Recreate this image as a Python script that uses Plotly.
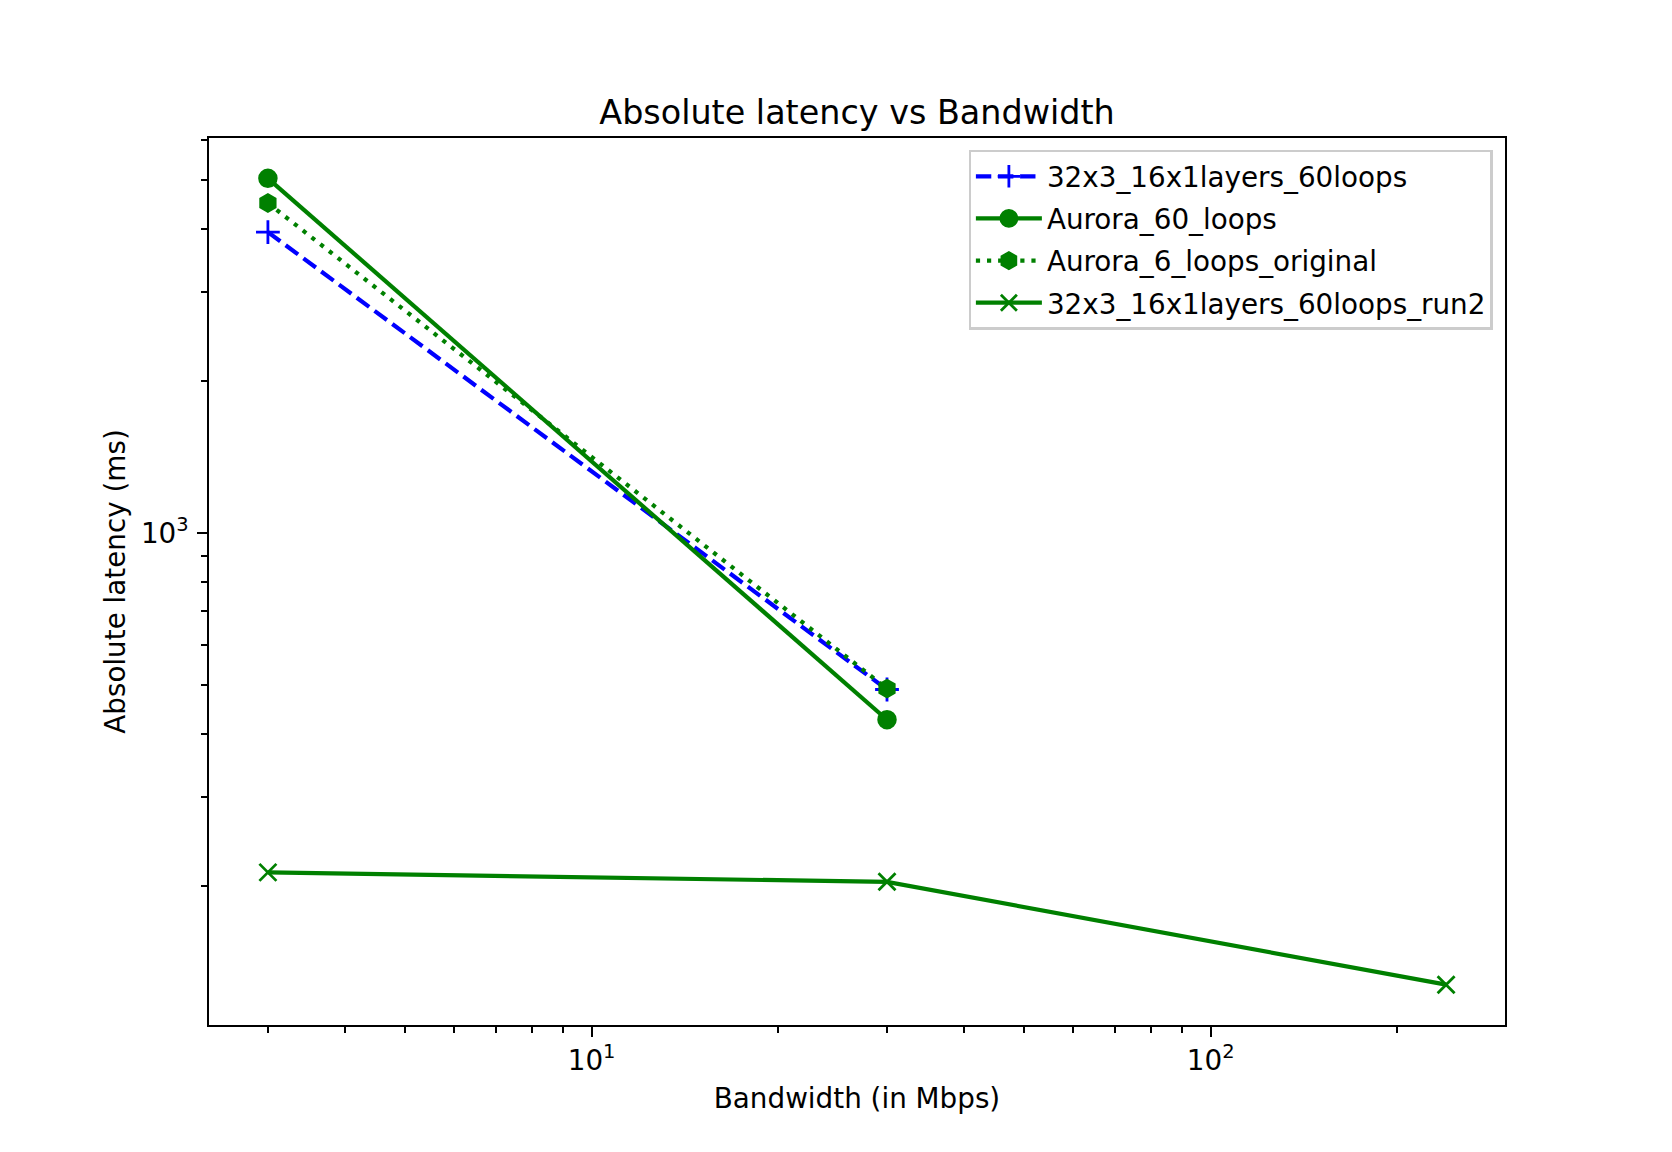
import numpy as np
import plotly.graph_objects as go

# ---- data ----
bandwidth_a = [3, 30]
bandwidth_b = [3, 30, 240]
lat_32x3 = [3937, 490]
lat_aurora60 = [5030, 427]
lat_aurora6 = [4494, 492]
lat_run2 = [213, 204, 127.7]

names = ["32x3_16x1layers_60loops", "Aurora_60_loops",
         "Aurora_6_loops_original", "32x3_16x1layers_60loops_run2"]

x_major = [10, 100]
x_major_text = ["10<sup>1</sup>", "10<sup>2</sup>"]
x_minor = [3, 4, 5, 6, 7, 8, 9, 20, 30, 40, 50, 60, 70, 80, 90, 200]
y_major = [1000]
y_major_text = ["10<sup>3</sup>"]
y_minor = [200, 300, 400, 500, 600, 700, 800, 900, 2000, 3000, 4000, 5000, 6000]

GREEN = "#008000"
BLUE = "#0000ff"
LW = 4.2
FONT = "DejaVu Sans"
FS = 27.8

fig = go.Figure()
fig.add_trace(go.Scatter(
    x=bandwidth_a, y=lat_32x3, name=names[0], mode="lines+markers", legendgroup="a",
    line=dict(color=BLUE, width=LW, dash="15.4px,6.7px"),
    marker=dict(symbol="cross-thin", size=17, color=BLUE, line=dict(color=BLUE, width=2.8))))
fig.add_trace(go.Scatter(
    x=bandwidth_a, y=lat_aurora60, name=names[1], mode="lines+markers", legendgroup="b",
    line=dict(color=GREEN, width=LW),
    marker=dict(symbol="circle", size=16.7, color=GREEN, line=dict(color=GREEN, width=2.8))))
fig.add_trace(go.Scatter(
    x=bandwidth_a, y=lat_aurora6, name=names[2], mode="lines+markers", legendgroup="c",
    line=dict(color=GREEN, width=LW, dash="4.2px,6.9px"),
    marker=dict(symbol="hexagon", size=16.7, color=GREEN, line=dict(color=GREEN, width=2.8))))
fig.add_trace(go.Scatter(
    x=bandwidth_b, y=lat_run2, name=names[3], mode="lines+markers", legendgroup="d",
    line=dict(color=GREEN, width=LW),
    marker=dict(symbol="x-thin", size=17, color=GREEN, line=dict(color=GREEN, width=2.8))))

def log_range(vals):
    lo, hi = np.log10(min(vals)), np.log10(max(vals))
    m = 0.05 * (hi - lo)
    return [lo - m, hi + m]

xr = log_range(bandwidth_a + bandwidth_b)
yr = log_range(lat_32x3 + lat_aurora60 + lat_aurora6 + lat_run2)

axis_common = dict(
    showgrid=False, zeroline=False, showline=True, linecolor="black", linewidth=2.2,
    mirror=True, ticks="outside", ticklen=9.7, tickwidth=2.2, tickcolor="black",
    tickfont=dict(family=FONT, size=FS, color="black"),
)

fig.update_xaxes(type="log", range=xr, tickmode="array", tickvals=x_major, ticktext=x_major_text,
                 minor=dict(tickmode="array", tickvals=x_minor, ticks="outside", ticklen=5.6,
                            tickwidth=1.7, tickcolor="black", showgrid=False),
                 title=dict(text="Bandwidth (in Mbps)", font=dict(family=FONT, size=FS, color="black"),
                            standoff=12),
                 ticklabelstandoff=0,
                 **axis_common)
fig.update_yaxes(type="log", range=yr, tickmode="array", tickvals=y_major, ticktext=y_major_text,
                 minor=dict(tickmode="array", tickvals=y_minor, ticks="outside", ticklen=5.6,
                            tickwidth=1.7, tickcolor="black", showgrid=False),
                 title=dict(text="Absolute latency (ms)", font=dict(family=FONT, size=FS, color="black"),
                            standoff=7),
                 ticklabelstandoff=3,
                 **axis_common)

fig.update_layout(
    width=1672, height=1152,
    margin=dict(l=209, r=167, t=138, b=127),
    paper_bgcolor="white", plot_bgcolor="white",
    font=dict(family=FONT, size=FS, color="black"),
    title=dict(text="Absolute latency vs Bandwidth", x=0.5, xanchor="center",
               xref="paper", yref="paper", y=1, yanchor="bottom",
               pad=dict(b=14), font=dict(family=FONT, size=33.4, color="black")),
    showlegend=True,
    legend=dict(x=0.9905, y=0.987, xanchor="right", yanchor="top",
                bgcolor="rgba(255,255,255,0.8)", bordercolor="#cccccc", borderwidth=2.2,
                font=dict(family=FONT, size=FS, color="black"),
                tracegroupgap=3, itemwidth=66),
)

fig.write_html("out.html",
               config={"displayModeBar": False},
               post_script="document.body.style.margin='0';document.body.style.overflow='hidden';")
